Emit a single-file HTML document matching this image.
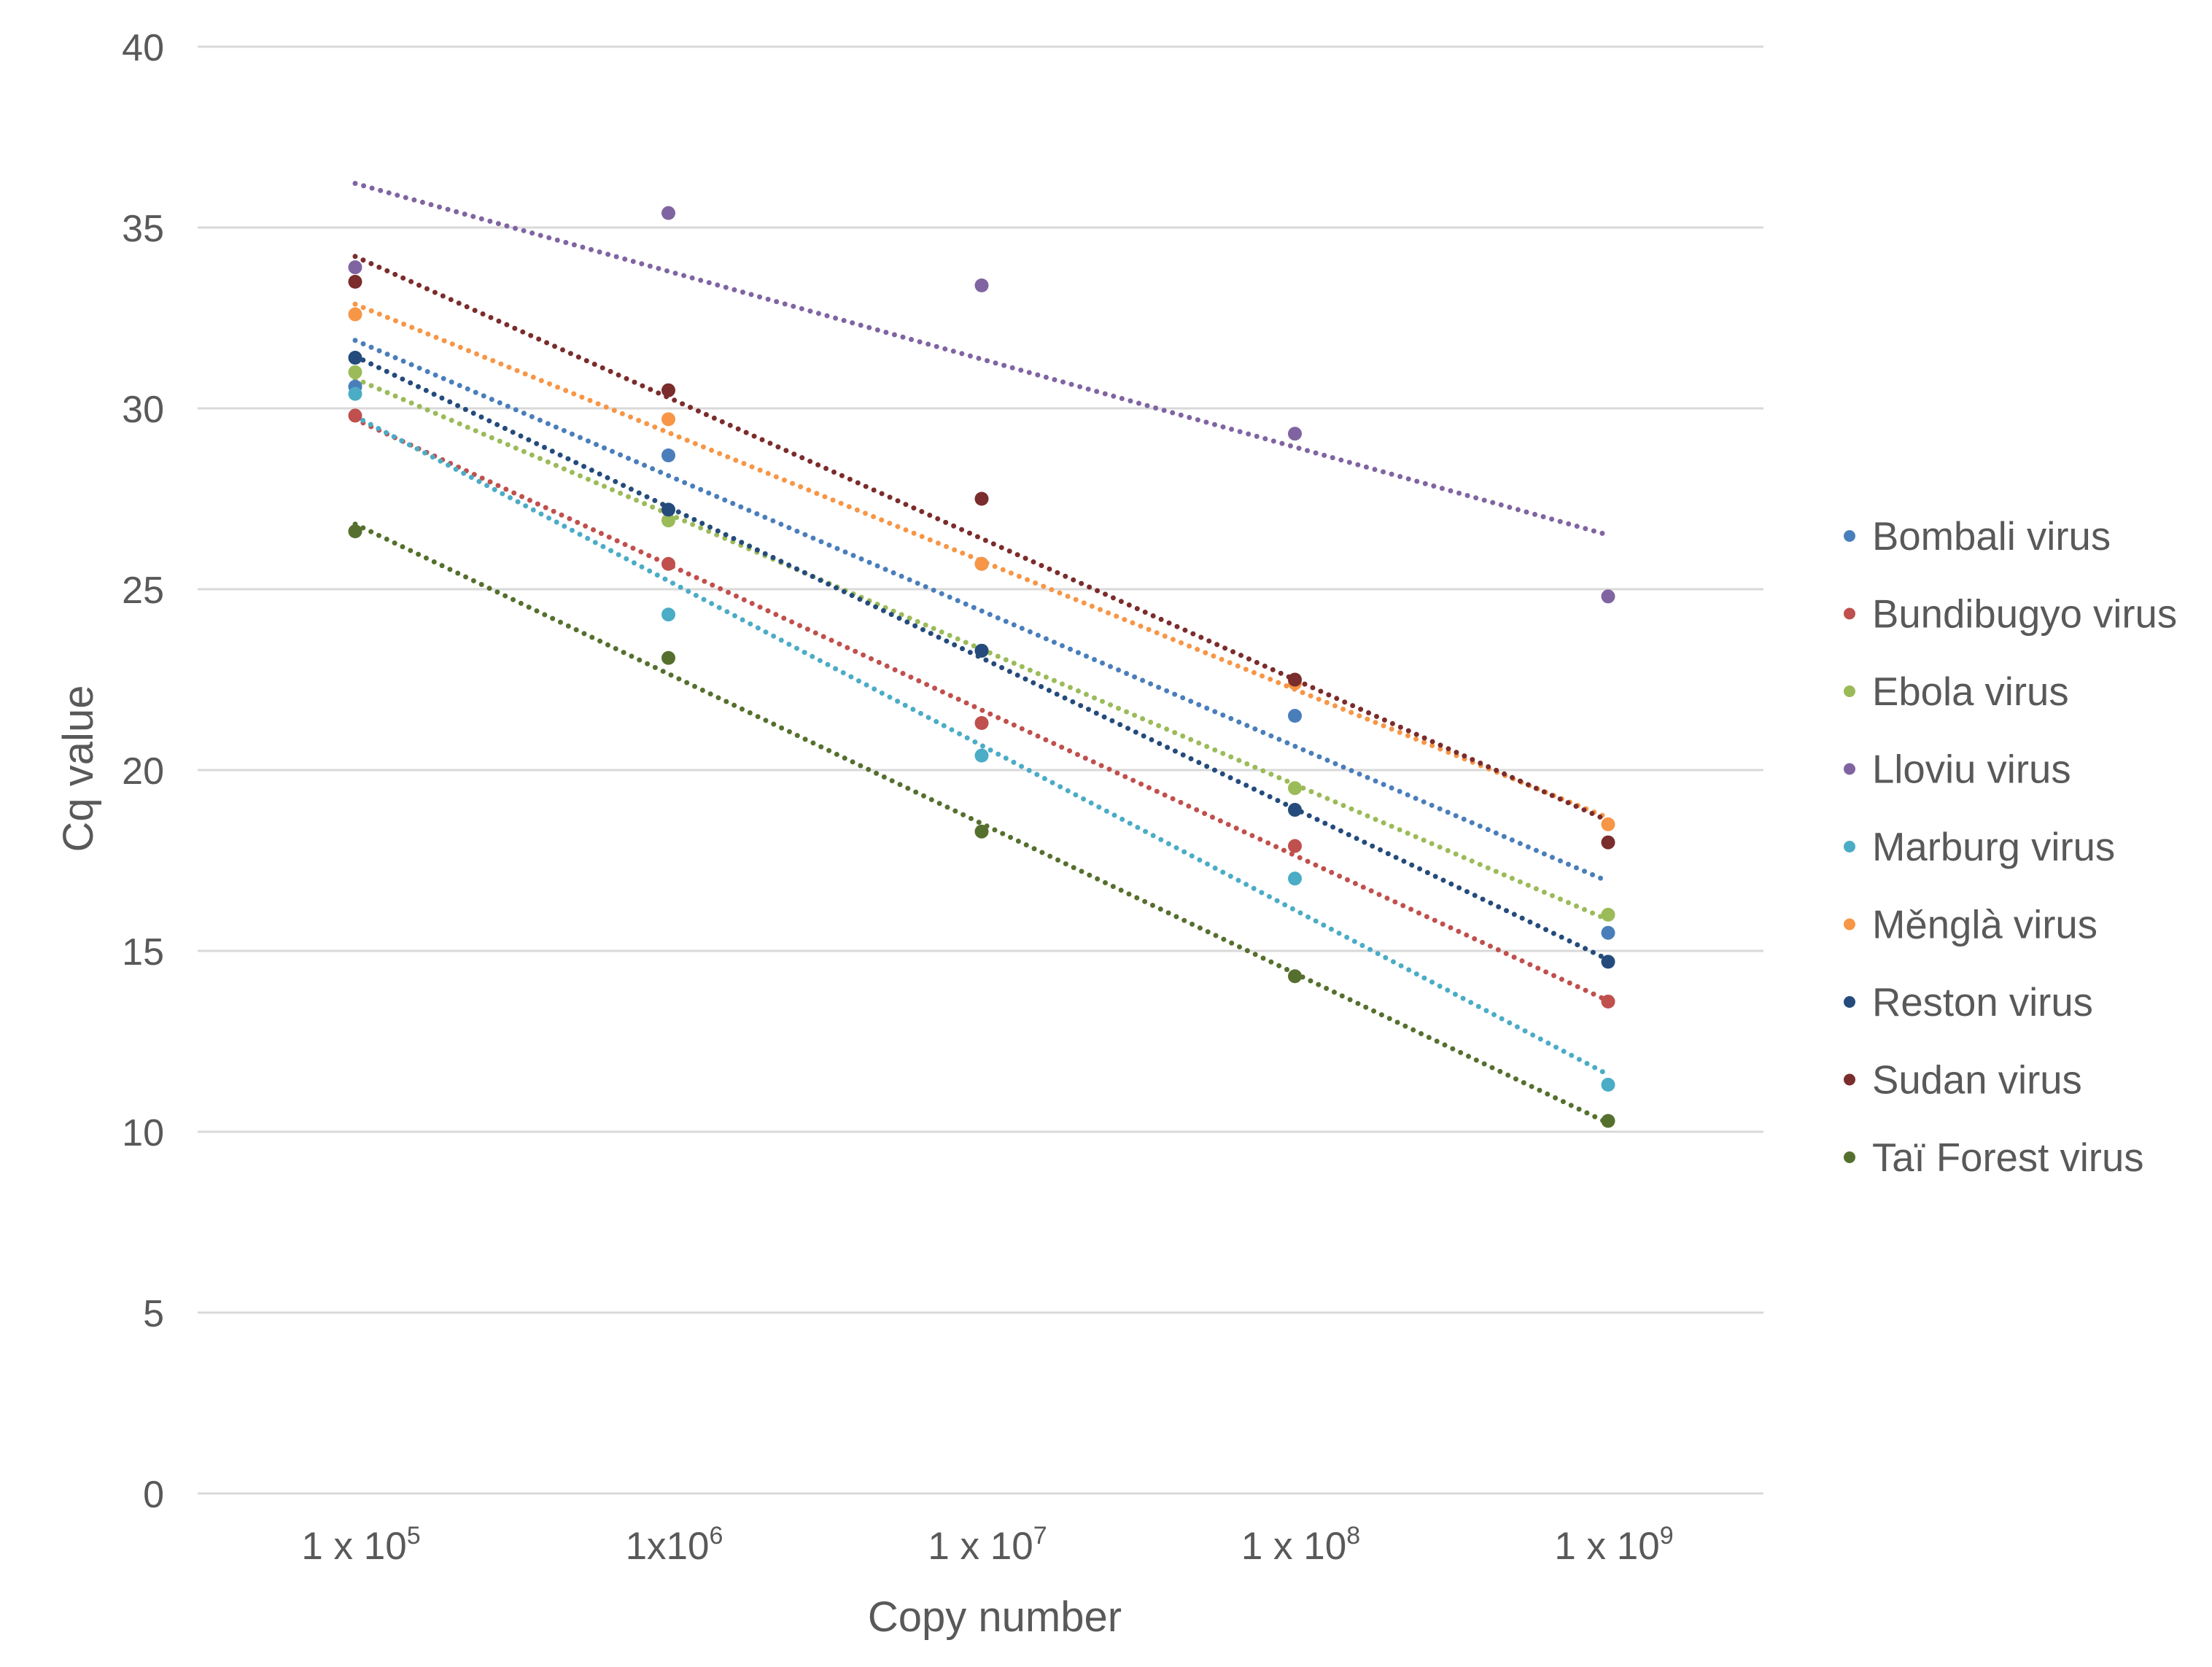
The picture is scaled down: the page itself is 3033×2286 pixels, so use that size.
<!DOCTYPE html>
<html><head><meta charset="utf-8"><style>
html,body{margin:0;padding:0;background:#fff;}
svg{display:block;font-family:"Liberation Sans",sans-serif;}
</style></head><body>
<svg id="chart" width="3033" height="2286" viewBox="0 0 3033 2286"></svg>
<script>
const categories = ["1 x 10","1x10","1 x 10","1 x 10","1 x 10"];
const exponents = ["5","6","7","8","9"];
const yTicks = [0,5,10,15,20,25,30,35,40];
const seriesNames = ["Bombali virus","Bundibugyo virus","Ebola virus","Lloviu virus","Marburg virus","Měnglà virus","Reston virus","Sudan virus","Taï Forest virus"];
const seriesColors = ["#4a7ebb","#c0504d","#9bbb59","#8064a2","#4bacc6","#f79646","#254b7c","#7b2c2c","#55702e"];
const bombali = [30.6,28.7,25.7,21.5,15.5];
const bundibugyo = [29.8,25.7,21.3,17.9,13.6];
const ebola = [31.0,26.9,23.3,19.5,16.0];
const lloviu = [33.9,35.4,33.4,29.3,24.8];
const marburg = [30.4,24.3,20.4,17.0,11.3];
const mengla = [32.6,29.7,25.7,22.4,18.5];
const reston = [31.4,27.2,23.3,18.9,14.7];
const sudan = [33.5,30.5,27.5,22.5,18.0];
const taiForest = [26.6,23.1,18.3,14.3,10.3];
const seriesValues = [bombali,bundibugyo,ebola,lloviu,marburg,mengla,reston,sudan,taiForest];

const NS="http://www.w3.org/2000/svg";
const svg=document.getElementById('chart');
const X0=271,X1=2418,Y0=2048,Y40=64;
const catX=[487,915,1346,1775,2205];
function xPos(i){return catX[0]+(catX[4]-catX[0])*i/(categories.length-1);}
function yPos(v){return Y0-(Y0-Y40)*v/40;}
function mk(tag,attrs,parent){const e=document.createElementNS(NS,tag);for(const k in attrs)e.setAttribute(k,attrs[k]);(parent||svg).appendChild(e);return e;}

yTicks.forEach(t=>{
  const g=mk('line',{x1:X0,x2:X1,y1:yPos(t),y2:yPos(t),stroke:'#d9d9d9','stroke-width':3});
  
  
  const tx=mk('text',{x:225,y:yPos(t)+19,'text-anchor':'end','font-size':52,fill:'#595959'});
  tx.textContent=t;
  
  
});
categories.forEach((c,i)=>{
  const tx=mk('text',{x:xPos(i)+8,y:2138,'text-anchor':'middle','font-size':53,fill:'#595959'});
  tx.textContent=c;
  const sp=mk('tspan',{dy:-21,'font-size':34},tx);
  sp.textContent=exponents[i];
  
  
});
const xt=mk('text',{x:1364,y:2237,'text-anchor':'middle','font-size':58,fill:'#595959'});
xt.textContent='Copy number';


const yt=mk('text',{x:0,y:0,'text-anchor':'middle','font-size':58,fill:'#595959',transform:'translate(127,1054) rotate(-90)'});
yt.textContent='Cq value';



seriesValues.forEach((vals,s)=>{
  const n=vals.length;let sx=0,sy=0,sxx=0,sxy=0;
  vals.forEach((v,i)=>{sx+=i;sy+=v;sxx+=i*i;sxy+=i*v;});
  const m=(n*sxy-sx*sy)/(n*sxx-sx*sx),b=(sy-m*sx)/n;
  const tl=mk('line',{x1:xPos(0),y1:yPos(b),x2:xPos(n-1),y2:yPos(b+m*(n-1)),stroke:seriesColors[s],'stroke-width':7,'stroke-dasharray':'0 12','stroke-linecap':'round'});
  
  
});
seriesValues.forEach((vals,s)=>{
  vals.forEach((v,i)=>{
    const c=mk('circle',{cx:xPos(i),cy:yPos(v),r:9.5,fill:seriesColors[s]});
    
    
  });
  const ly=735+s*106.5;
  const lc=mk('circle',{cx:2536,cy:ly,r:8,fill:seriesColors[s]});
  
  
  const lt=mk('text',{x:2567,y:ly+19,'font-size':54.5,fill:'#595959'});
  lt.textContent=seriesNames[s];
  
  
});
</script>
</body></html>
